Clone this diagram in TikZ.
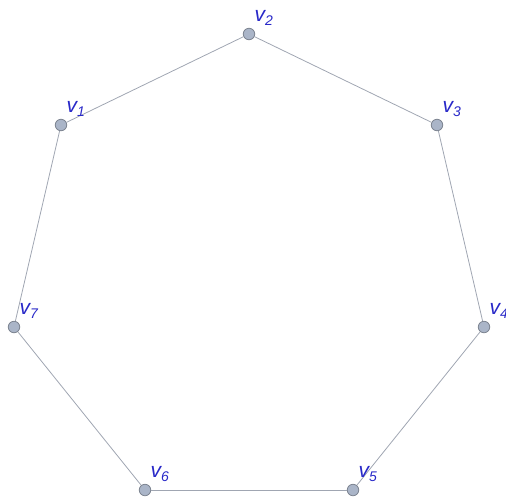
\documentclass[tikz,border=0pt]{standalone}
\usepackage{fontspec}
\setmainfont{Liberation Sans}
\usetikzlibrary{positioning}
\definecolor{edgegray}{RGB}{160,166,178}
\definecolor{vertfill}{RGB}{170,181,200}
\definecolor{vertdraw}{RGB}{125,132,145}
\definecolor{labblue}{RGB}{40,40,200}
\newcommand{\vname}[1]{\itshape v\raisebox{-4pt}{\fontsize{14}{14}\selectfont #1}}

\begin{document}
\begin{tikzpicture}[x=1pt, y=-1pt,
    vert/.style={circle, draw=vertdraw, fill=vertfill, line width=0.8pt, minimum size=11.5pt, inner sep=0pt},
    lab/.style={text=labblue, font=\fontsize{21}{21}\selectfont, inner sep=0pt},
    edge/.style={draw=edgegray, line width=0.8pt}]
        \useasboundingbox (0,0) rectangle (506,499);
        \clip (0,0) rectangle (506,499);
        \node[vert] (v1) at (61,125) {};
        \node[vert] (v2) at (249,34) {};
        \node[vert] (v3) at (437,125) {};
        \node[vert] (v4) at (484,327) {};
        \node[vert] (v5) at (353,490) {};
        \node[vert] (v6) at (145,490) {};
        \node[vert] (v7) at (14,327) {};
        \foreach \a/\b in {v1/v2,v2/v3,v3/v4,v4/v5,v5/v6,v6/v7,v7/v1}
          \draw[edge] (\a) -- (\b);
        \foreach \i in {1,...,7}
          \node[lab, above right=4pt and 1pt of v\i] (l\i) {\vname{\i}};
      \end{tikzpicture}
\end{document}
